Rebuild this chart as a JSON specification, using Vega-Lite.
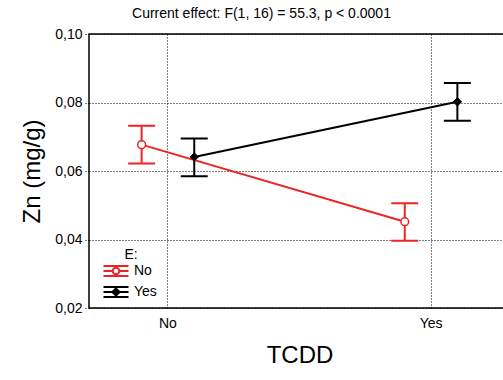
{
  "$schema": "https://vega.github.io/schema/vega-lite/v6.json",
  "width": 421,
  "height": 274,
  "autosize": "none",
  "padding": {"left": 89, "top": 34, "right": 0, "bottom": 72},
  "background": "white",
  "config": {
    "font": "Liberation Sans",
    "view": {"stroke": "black", "strokeWidth": 1.5}
  },
  "title": {
    "text": "Current effect: F(1, 16) = 55.3, p < 0.0001",
    "fontSize": 14,
    "font": "Liberation Sans",
    "fontWeight": "normal",
    "color": "black",
    "dx": -38,
    "offset": 6
  },
  "data": {
    "values": [
      {"TCDD": "No", "E": "No", "mean": 0.0677, "lo": 0.0622, "hi": 0.0732},
      {"TCDD": "Yes", "E": "No", "mean": 0.0452, "lo": 0.0396, "hi": 0.0506},
      {"TCDD": "No", "E": "Yes", "mean": 0.0641, "lo": 0.0585, "hi": 0.0695},
      {"TCDD": "Yes", "E": "Yes", "mean": 0.0802, "lo": 0.0747, "hi": 0.0857}
    ]
  },
  "encoding": {
    "x": {
      "field": "TCDD",
      "type": "nominal",
      "sort": ["No", "Yes"],
      "scale": {"type": "band", "paddingInner": 0.4, "paddingOuter": 0},
      "axis": {
        "title": "TCDD",
        "titleFontSize": 24,
        "titleFontWeight": "normal",
        "titleColor": "black",
        "titleY": 47,
        "titleBaseline": "middle",
        "labelAngle": 0,
        "labelFontSize": 14,
        "labelColor": "black",
        "labelPadding": 8,
        "ticks": false,
        "domain": false,
        "grid": true,
        "gridColor": "black",
        "gridDash": [1, 2],
        "gridOpacity": 1,
        "gridWidth": 1,
        "bandPosition": 0.5
      }
    },
    "xOffset": {
      "field": "E",
      "type": "nominal",
      "sort": ["No", "Yes"],
      "scale": {"type": "point", "padding": 1.47, "domain": ["No", "Yes"]}
    },
    "color": {
      "field": "E",
      "type": "nominal",
      "sort": ["No", "Yes"],
      "scale": {"domain": ["No", "Yes"], "range": ["#ee2424", "#000000"]},
      "legend": {
        "title": "E:",
        "orient": "none",
        "legendX": 17,
        "legendY": 214,
        "titleFontSize": 14,
        "titleFontWeight": "normal",
        "titleColor": "black",
        "titleAnchor": "middle",
        "titlePadding": -1,
        "labelFontSize": 14,
        "labelColor": "black",
        "labelOffset": 8,
        "rowPadding": 1,
        "symbolSize": 324,
        "symbolStrokeWidth": 2,
        "encode": {
          "symbols": {
            "update": {
              "shape": {"signal": "datum.value === 'No' ? 'M-1.39,-0.56H1.39M-1.39,0H-0.37M0.37,0H1.39M-1.39,0.56H1.39M0,-0.56V-0.37M0,0.37V0.56M-0.37,0A0.37,0.37 0 1,0 0.37,0A0.37,0.37 0 1,0 -0.37,0Z' : 'M-1.39,-0.56H1.39M-1.39,0H1.39M-1.39,0.56H1.39M0,-0.56V0.56M0,-0.4L0.4,0L0,0.4L-0.4,0Z'"},
              "fill": {"signal": "datum.value === 'No' ? 'white' : 'black'"},
              "fillOpacity": {"value": 1},
              "strokeWidth": {"value": 2},
              "opacity": {"value": 1}
            }
          }
        }
      }
    }
  },
  "layer": [
    {
      "mark": {"type": "rule", "strokeWidth": 2},
      "encoding": {
        "y": {
          "field": "lo",
          "type": "quantitative",
          "scale": {"domain": [0.02, 0.1], "nice": false, "zero": false},
          "axis": {
            "title": "Zn (mg/g)",
            "titleFontSize": 24,
            "titleFontWeight": "normal",
            "titleColor": "black",
            "titleX": -57,
            "titleBaseline": "middle",
            "values": [0.02, 0.04, 0.06, 0.08, 0.1],
            "labelExpr": "replace(format(datum.value, '.2f'), '.', ',')",
            "labelFontSize": 14,
            "labelColor": "black",
            "labelPadding": 2,
            "tickSize": 5,
            "tickColor": "black",
            "tickDash": [1, 2],
            "domain": false,
            "grid": true,
            "gridColor": "black",
            "gridDash": [1, 2],
            "gridOpacity": 1,
            "gridWidth": 1
          }
        },
        "y2": {"field": "hi"}
      }
    },
    {
      "mark": {"type": "tick", "filled": false, "thickness": 0, "strokeWidth": 2, "size": 27, "opacity": 1},
      "encoding": {"y": {"field": "lo", "type": "quantitative"}}
    },
    {
      "mark": {"type": "tick", "filled": false, "thickness": 0, "strokeWidth": 2, "size": 27, "opacity": 1},
      "encoding": {"y": {"field": "hi", "type": "quantitative"}}
    },
    {
      "mark": {"type": "line", "strokeWidth": 2},
      "encoding": {"y": {"field": "mean", "type": "quantitative"}}
    },
    {
      "transform": [{"filter": "datum.E === 'No'"}],
      "mark": {"type": "point", "shape": "circle", "filled": false, "fill": "white", "fillOpacity": 1, "strokeWidth": 1.5, "opacity": 1, "size": 60},
      "encoding": {"y": {"field": "mean", "type": "quantitative"}}
    },
    {
      "transform": [{"filter": "datum.E === 'Yes'"}],
      "mark": {"type": "point", "shape": "diamond", "filled": false, "fill": "black", "fillOpacity": 1, "strokeWidth": 1, "opacity": 1, "size": 70},
      "encoding": {"y": {"field": "mean", "type": "quantitative"}}
    }
  ]
}
